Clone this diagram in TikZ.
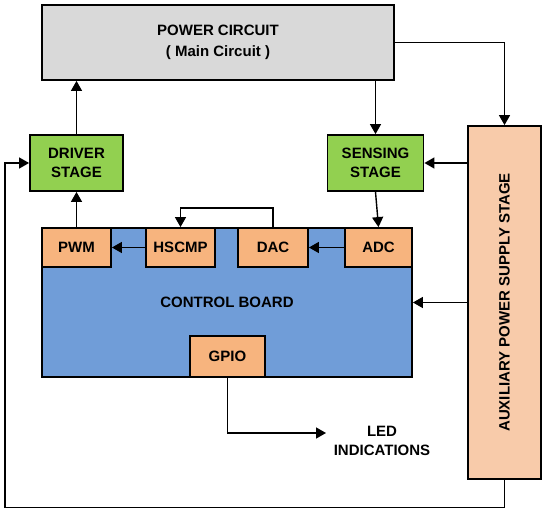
\documentclass[tikz,border=0pt]{standalone}
\usepackage{fontspec}
\setmainfont{Liberation Sans}
\newfontfamily\lbf{Liberation Sans Bold}
\usepackage{xcolor}
\usepackage{tikz}
\usetikzlibrary{calc,arrows.meta,positioning}
\definecolor{pcgray}{HTML}{D9D9D9}
\definecolor{stagec}{HTML}{92D050}
\definecolor{boardc}{HTML}{709DD8}
\definecolor{portc}{HTML}{F7B47E}
\definecolor{auxc}{HTML}{F8CBAA}
\tikzset{
  txt/.style={font=\lbf\fontsize{15}{19}\selectfont},
  blk/.style={draw=black,line width=1.8pt,align=center,inner sep=2pt,txt},
  port/.style={blk,fill=portc,minimum height=39pt},
  ar/.style={-{Triangle[length=10pt,width=11pt]},line width=1.4pt}
}
\begin{document}
\begin{tikzpicture}[x=1pt,y=-1pt]
\useasboundingbox (0,0) rectangle (543,510);
% blocks
\node[blk,fill=pcgray,minimum width=352pt,minimum height=75pt,
  font=\lbf\fontsize{15}{21}\selectfont] (pc) at (218,42.5)
  {POWER CIRCUIT\\( Main Circuit )};
\node[blk,fill=stagec,minimum width=93pt,minimum height=56pt] (drv) at (76.5,163) {DRIVER\\STAGE};
\node[blk,fill=stagec,minimum width=96pt,minimum height=56pt] (sens) at (375.5,163) {SENSING\\STAGE};
\node[blk,fill=auxc,minimum width=73pt,minimum height=353pt] (aux) at (504.5,302.5) {};
\node[txt,rotate=90] (auxt) at (aux.center) {AUXILIARY POWER SUPPLY STAGE};
\node[blk,fill=boardc,minimum width=370pt,minimum height=149pt] (cb) at (227,302.5) {};
\node[txt] (cbt) at (227,302) {CONTROL BOARD};
\node[port,minimum width=69pt] (pwm) at (76.5,247.5) {PWM};
\node[port,minimum width=69pt] (hscmp) at (180.5,247.5) {HSCMP};
\node[port,minimum width=70pt] (dac) at (273,247.5) {DAC};
\node[port,minimum width=67pt] (adc) at (378.5,247.5) {ADC};
\node[port,minimum width=75pt,minimum height=41pt] (gpio) at (227.5,356.5) {GPIO};
\node[txt,align=center] (led) at (382,441) {LED\\INDICATIONS};
\coordinate (ledin) at (326,433);
\coordinate (loop) at (5,507.5);
% connectors
\draw[ar] (drv.north) -- (drv.north |- pc.south);
\draw[ar] (pwm.north) -- (drv.south);
\draw[ar] (hscmp.west) -- (pwm.east);
\draw[ar] (dac.north) -- ++(0,-19) -| (hscmp.north);
\draw[ar] (adc.west) -- (dac.east);
\draw[ar] (sens.south) -- (adc.north);
\draw[ar] (sens.north |- pc.south) -- (sens.north);
\draw[ar] (pc.east) -| (aux.north);
\draw[ar] (aux.west |- sens.east) -- (sens.east);
\draw[ar] (aux.west) -- (cb.east);
\draw[ar] (aux.south) |- (loop) |- (drv.west);
\draw[ar] (gpio.south) |- (ledin);
\end{tikzpicture}
\end{document}
